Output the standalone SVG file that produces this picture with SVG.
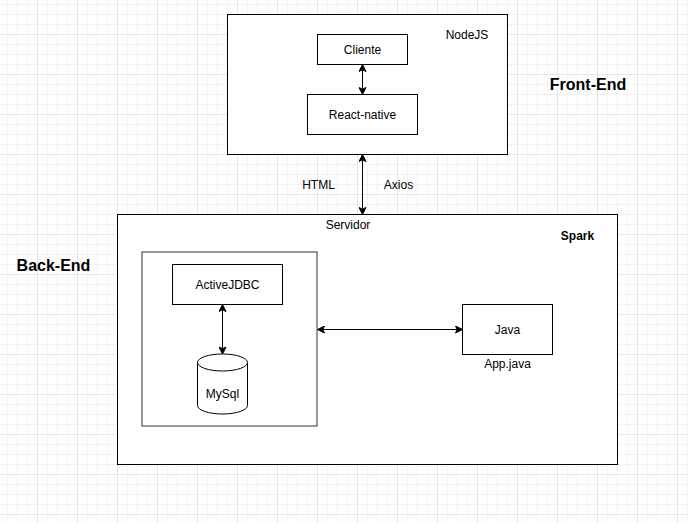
<svg xmlns="http://www.w3.org/2000/svg" width="688" height="522" viewBox="0 0 688 522">
<defs>
<pattern id="grid" x="37" y="34" width="40" height="40" patternUnits="userSpaceOnUse">
<path d="M10.5 0V40M20.5 0V40M30.5 0V40M0 10.5H40M0 20.5H40M0 30.5H40" stroke="#f3f3f3" stroke-width="1" fill="none"/>
<path d="M0.5 0V40M0 0.5H40" stroke="#e6e6e6" stroke-width="1" fill="none"/>
</pattern>
<marker id="arr" viewBox="-8 -4 9 8" refX="0" refY="0" markerWidth="9" markerHeight="8" markerUnits="userSpaceOnUse" orient="auto-start-reverse">
<path d="M-7 -3.5L0 0L-7 3.5L-5.25 0Z" fill="#000" stroke="#000" stroke-width="1"/>
</marker>
<style>
.box{fill:#fff;stroke:#000;stroke-width:1}
.t{font-family:"Liberation Sans",Arial,sans-serif;font-size:12px;fill:#000;text-anchor:middle}
.b{font-family:"Liberation Sans",Arial,sans-serif;font-weight:bold;fill:#000;text-anchor:middle}
.c{fill:none;stroke:#000;stroke-width:1}
</style>
</defs>
<rect width="688" height="522" fill="#fff"/>
<rect width="688" height="522" fill="url(#grid)"/>

<g id="frontend">
<rect class="box" x="227.5" y="14.5" width="280" height="140"/>
<text class="t" x="467" y="39">NodeJS</text>
</g>
<g id="cliente">
<rect class="box" x="317.5" y="34.5" width="90" height="30"/>
<text class="t" x="362.5" y="54">Cliente</text>
</g>
<g id="react-native">
<rect class="box" x="307.5" y="94.5" width="110" height="40"/>
<text class="t" x="362.5" y="119">React-native</text>
</g>
<g id="label-frontend">
<text class="b" x="588" y="90" font-size="16">Front-End</text>
</g>
<g id="label-backend">
<text class="b" x="53.5" y="271" font-size="16">Back-End</text>
</g>

<g id="servidor">
<rect class="box" x="117.5" y="214.5" width="500" height="250"/>
<text class="t" x="348" y="228.5">Servidor</text>
<text class="b" x="577.5" y="239.5" font-size="12">Spark</text>
</g>
<g id="inner">
<rect x="142" y="252" width="175" height="174" fill="#fff" stroke="#333" stroke-width="1"/>
</g>
<g id="activejdbc">
<rect class="box" x="172.5" y="264.5" width="110" height="40"/>
<text class="t" x="227.5" y="288.5">ActiveJDBC</text>
</g>
<g id="mysql">
<path d="M197.5 362.5V405.5A25 8.5 0 0 0 247.5 405.5V362.5" fill="#fff" stroke="#000"/>
<ellipse cx="222.5" cy="362.5" rx="25" ry="8.5" fill="#fff" stroke="#000"/>
<text class="t" x="222.5" y="397.5">MySql</text>
</g>
<g id="java">
<rect class="box" x="462.5" y="304.5" width="90" height="50"/>
<text class="t" x="507.5" y="333.5">Java</text>
<text class="t" x="507.5" y="368">App.java</text>
</g>

<g id="connectors">
<line class="c" x1="362.5" y1="64.5" x2="362.5" y2="94.5" marker-start="url(#arr)" marker-end="url(#arr)"/>
<line class="c" x1="362.5" y1="154.5" x2="362.5" y2="214.5" marker-start="url(#arr)" marker-end="url(#arr)"/>
<line class="c" x1="222.5" y1="304.5" x2="222.5" y2="354" marker-start="url(#arr)" marker-end="url(#arr)"/>
<line class="c" x1="317.5" y1="329.5" x2="462.5" y2="329.5" marker-start="url(#arr)" marker-end="url(#arr)"/>
<text class="t" x="318.5" y="189">HTML</text>
<text class="t" x="398.5" y="189">Axios</text>
</g>
</svg>
